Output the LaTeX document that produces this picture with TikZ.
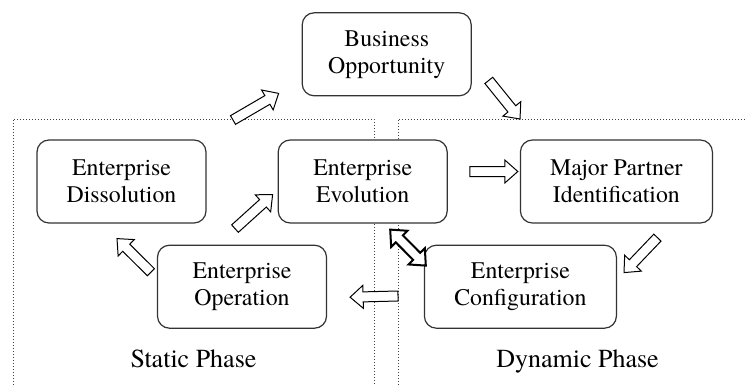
\documentclass[tikz,border=0pt]{standalone}
\usepackage{fontspec}
\setmainfont{TeX Gyre Termes}
\usepackage{tikz}
\usetikzlibrary{positioning, calc}
\newcommand{\boxfont}{\rmfamily\fontsize{11.9}{13.5}\selectfont}
\newcommand{\labelfont}{\rmfamily\fontsize{13}{15}\selectfont}
\tikzset{
  % Life-cycle stages
  stagebox/.style={
    rectangle, rounded corners=6pt, minimum width=84.5pt, minimum height=41.5pt,
    draw=black!80, fill=white, text=black, font=\boxfont,
    align=center, line width=0.6pt, inner sep=2pt,
  },
  % Phase regions
  phaseline/.style={draw=black!75, line width=0.45pt, dash pattern=on 0.6pt off 0.9pt},
  phaselabel/.style={font=\labelfont, text=black, inner sep=0pt},
  % Hollow block arrows
  blockarrow/.style={draw=black, fill=white, line width=0.5pt, line join=miter,
    to path={
      let \p1=(\tikztostart), \p2=(\tikztotarget),
          \p3=($(\p2)!6.5pt!(\p1)$)
      in ($(\p1)!2.5pt!90:(\p2)$) -- ($(\p3)!2.5pt!90:(\p2)$)
         -- ($(\p3)!5.75pt!90:(\p2)$) -- (\p2)
         -- ($(\p3)!5.75pt!-90:(\p2)$) -- ($(\p3)!2.5pt!-90:(\p2)$)
         -- ($(\p1)!2.5pt!-90:(\p2)$) -- cycle
    }},
  dblblockarrow/.style={draw=black, fill=white, line width=1pt, line join=miter,
    to path={
      let \p1=(\tikztostart), \p2=(\tikztotarget),
          \p3=($(\p2)!6.5pt!(\p1)$), \p4=($(\p1)!6.5pt!(\p2)$)
      in (\p1) -- ($(\p4)!5.75pt!90:(\p2)$) -- ($(\p4)!2.5pt!90:(\p2)$)
         -- ($(\p3)!2.5pt!90:(\p2)$) -- ($(\p3)!5.75pt!90:(\p2)$) -- (\p2)
         -- ($(\p3)!5.75pt!-90:(\p2)$) -- ($(\p3)!2.5pt!-90:(\p2)$)
         -- ($(\p4)!2.5pt!-90:(\p2)$) -- ($(\p4)!5.75pt!-90:(\p2)$) -- cycle
    }},
}

\begin{document}
\begin{tikzpicture}[x=0.5pt, y=-0.5pt]
  \useasboundingbox (0,0) rectangle (747,385);

  % Phase regions
  \draw[phaseline] (13,385) -- (13,119) -- (374,119) -- (374,385);
  \draw[phaseline] (398,385) -- (398,119) -- (747,119);
  \coordinate (staticout) at (233,120);
  \coordinate (dynin) at (520,119);
  \coordinate (dynout) at (398,296);

  % Stages
  \node[stagebox] (diss) at (121.5,181.5) {Enterprise\\Dissolution};
  \node[stagebox, right=35.5pt of diss] (evol) {Enterprise\\Evolution};
  \node[stagebox, right=36pt of evol, minimum width=96pt] (major) {Major Partner\\Identification};
  \node[stagebox, above=21.5pt of evol, xshift=12pt] (biz) {Business\\Opportunity};
  \node[stagebox, below=10.5pt of diss, xshift=60.25pt] (oper) {Enterprise\\Operation};
  \node[stagebox, below=10.5pt of major, xshift=-48pt, minimum width=96pt] (config) {Enterprise\\Configuration};

  % Phase names
  \node[phaselabel, anchor=base] (static) at (193.5,367.5) {Static Phase};
  \node[phaselabel, anchor=base] (dynamic) at (577.5,367.5) {Dynamic Phase};

  % Arrows
  \draw[blockarrow] (staticout) to ([xshift=-11.5pt, yshift=1.5pt]biz.south west);
  \draw[blockarrow] ([xshift=8.5pt, yshift=8pt]biz.south east) to (dynin);
  \draw[blockarrow] ([xshift=11pt, yshift=5pt]evol.east) to ([xshift=-1pt, yshift=5pt]major.west);
  \draw[blockarrow] ([xshift=20.5pt, yshift=-7pt]major.south) to ([xshift=3.5pt, yshift=-14pt]config.north east);
  \draw[dblblockarrow] ([xshift=13.75pt, yshift=-3pt]evol.south) to ([xshift=1pt, yshift=-10.5pt]config.north west);
  \draw[blockarrow] (dynout) to ([xshift=11.5pt, yshift=-5.25pt]oper.east);
  \draw[blockarrow] ([xshift=-3.5pt, yshift=8pt]oper.north) to ([xshift=-2.5pt, yshift=14.5pt]evol.south west);
  \draw[blockarrow] ([xshift=-3pt, yshift=7.25pt]oper.west) to ([xshift=-2.25pt, yshift=-7.5pt]diss.south);

\end{tikzpicture}
\end{document}
